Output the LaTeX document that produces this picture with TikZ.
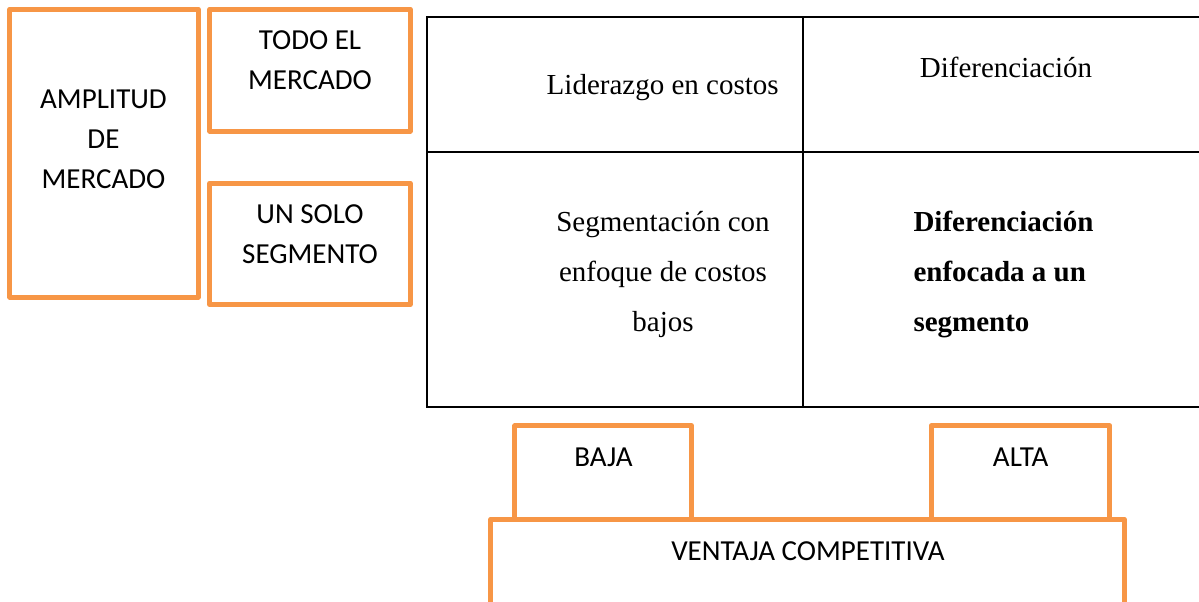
\documentclass[tikz,border=0pt]{standalone}
\usepackage{fontspec}
\setmainfont{Liberation Serif}
\newfontfamily\calibri{Carlito}
\usepackage{tikz}
\definecolor{naranja}{HTML}{F79646}

\begin{document}
\begin{tikzpicture}[x=1pt,y=-1pt]

        \useasboundingbox (0,0) rectangle (1199,602);

        % orange boxes
        \begin{scope}[every node/.style={draw=naranja, line width=5pt, line join=round, inner sep=0pt}]
          \node[minimum width=188.5pt, minimum height=287.8pt] (amplitud) at (104,153.1)   {};
          \node[minimum width=200.5pt, minimum height=121.8pt] (todo)     at (310,70.1)    {};
          \node[minimum width=200.5pt, minimum height=121.3pt] (unsolo)   at (310,243.7)   {};
          \node[minimum width=176.7pt, minimum height=93.4pt]  (baja)     at (603.3,472.5) {};
          \node[minimum width=178.4pt, minimum height=93.4pt]  (alta)     at (1020.5,472.5) {};
          \node[minimum width=633.4pt, minimum height=85.3pt]  (ventaja)  at (807.5,561.9) {};
        \end{scope}

        \begin{scope}[every node/.style={font=\calibri\fontsize{29}{40}\selectfont, align=center, inner sep=0pt}]
          \node (amplitudT) at (103.5,138.8) {AMPLITUD\\DE\\MERCADO};
          \node (todoT)     at (310,59.7)    {TODO EL\\MERCADO};
          \node (unsoloT)   at (310,234)     {UN SOLO\\SEGMENTO};
          \node (bajaT)     at (603.5,457.5) {BAJA};
          \node (altaT)     at (1020.7,457.5) {ALTA};
          \node (ventajaT)  at (808,551)     {VENTAJA COMPETITIVA};
        \end{scope}

        % table
        \draw[line width=2pt] (1199,16.7) -- (427.3,16.7) -- (427.3,406.7) -- (1199,406.7);
        \draw[line width=2pt] (427.3,151.7) -- (1199,151.7);
        \draw[line width=2pt] (802.7,16.7) -- (802.7,406.7);

        \begin{scope}[every node/.style={font=\fontsize{29}{50}\selectfont, inner sep=0pt}]
          \node[anchor=base] (liderazgo) at (662.7,95)   {Liderazgo en costos};
          \node[anchor=base] (difer)     at (1006,77.3)  {Diferenciación};
          \node[align=center] (segmen)   at (663,274.3)  {Segmentación con\\enfoque de costos\\bajos};
          \node[align=left, anchor=west, font=\fontsize{29}{50}\selectfont\bfseries] (diferfoc) at (913.3,274.5)
            {Diferenciación\\enfocada a un\\segmento};
        \end{scope}

      \end{tikzpicture}
\end{document}
